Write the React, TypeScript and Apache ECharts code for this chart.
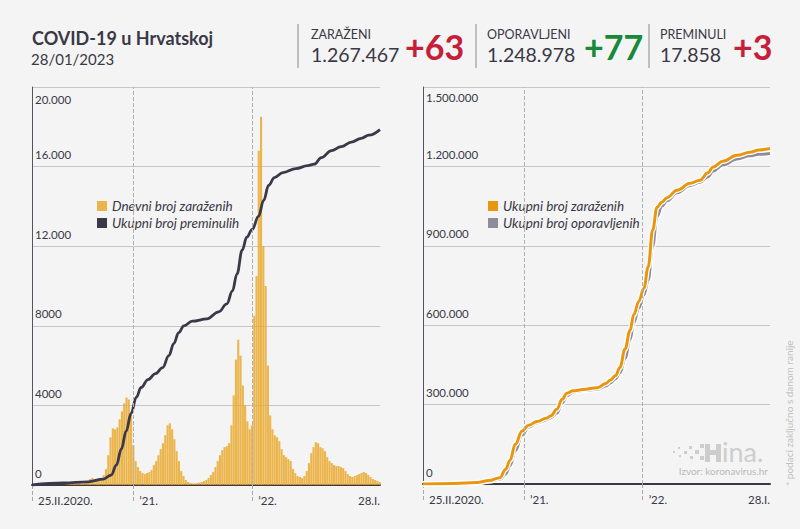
import React, { useEffect, useRef } from "react";
import * as echarts from "echarts";

// ---------- DATA ----------
const START = "2020-02-25";
const END = "2023-01-28";
const YEAR_MARKS = ["2021-01-01", "2022-01-01"];
const X_LABELS: Record<string, string> = {
  "2020-02-25": "25.II.2020.",
  "2021-01-01": "\u201921.",
  "2022-01-01": "\u201922.",
  "2023-01-28": "28.I.",
};

// daily new cases, one value per week from 25.II.2020 (visible peak of each week)
const weeklyCases = [
  0, 5, 30, 80, 100,
  60, 50, 40, 20,
  10, 5, 5, 3, 5,
  10, 30, 90, 100,
  120, 130, 100, 80, 60,
  100, 200, 300, 350,
  250, 250, 300, 350,
  500, 800, 1500, 2400, 2850, 2800, 2900, 3300, 3700, 4100,
  4400, 4300, 3600, 2000, 1200, 900, 700, 600, 550, 600,
  650, 750, 1000, 1200, 1500, 1800, 2100, 2500, 3000, 3100,
  2800, 2300, 1700, 1200, 700, 450, 250, 150, 100, 80,
  80, 100, 120, 150, 200, 250, 350, 500, 650, 900,
  1200, 1500, 1750, 1900, 1950, 2100, 3000, 4500, 6300, 7300,
  6500, 5000, 4000, 3200, 2800, 3000, 8500, 10500, 16800, 18500,
  12000, 10000, 6000, 3500, 2800, 2500, 2400, 2200, 1800, 1500,
  1400, 1300, 1200, 800, 600, 450, 400, 350, 450, 700,
  1100, 1600, 1900, 2150, 2100, 1900, 1850, 1700, 1400, 1200,
  1100, 1000, 950, 950, 900, 850, 700, 550, 450, 400,
  450, 500, 550, 600, 650, 600, 500, 400, 300, 250, 200, 150,
];

const deathDates = [
  "2020-02-25", "2020-06-01", "2020-08-15", "2020-10-01", "2020-10-25", "2020-11-10",
  "2020-11-25", "2020-12-10", "2020-12-25", "2021-01-10", "2021-01-25", "2021-02-15",
  "2021-03-10", "2021-04-01", "2021-04-20", "2021-05-05", "2021-05-20", "2021-06-05",
  "2021-07-01", "2021-08-15", "2021-09-20", "2021-10-15", "2021-11-01", "2021-11-15",
  "2021-12-01", "2021-12-15", "2022-01-01", "2022-01-20", "2022-02-05", "2022-02-20",
  "2022-03-10", "2022-04-05", "2022-05-15", "2022-06-20", "2022-07-10", "2022-08-01",
  "2022-09-01", "2022-10-01", "2022-11-01", "2022-12-01", "2022-12-25", "2023-01-28",
];
const deathValues = [
  0, 100, 160, 300, 500, 1000,
  1800, 2700, 3600, 4400, 4900, 5300,
  5600, 5900, 6500, 7100, 7650, 8000,
  8230, 8350, 8700, 9100, 9750, 10600,
  11800, 12450, 12850, 13500, 14300, 15050,
  15450, 15700, 15900, 16050, 16120, 16450,
  16800, 17000, 17230, 17420, 17580, 17858,
];

const totalDates = [
  "2020-02-25", "2020-06-01", "2020-08-09", "2020-09-15", "2020-10-19", "2020-11-05",
  "2020-11-19", "2020-12-05", "2020-12-26", "2021-01-15", "2021-02-10", "2021-03-10",
  "2021-03-25", "2021-04-12", "2021-04-28", "2021-05-13", "2021-06-01", "2021-07-01",
  "2021-08-15", "2021-09-10", "2021-09-23", "2021-10-10", "2021-10-23", "2021-11-08",
  "2021-11-23", "2021-12-05", "2021-12-20", "2022-01-05", "2022-01-18", "2022-02-01",
  "2022-02-14", "2022-03-01", "2022-03-17", "2022-04-17", "2022-05-27", "2022-06-27",
  "2022-07-20", "2022-08-06", "2022-09-05", "2022-10-18", "2022-11-27", "2022-12-25",
  "2023-01-28",
];
const totalCases = [
  0, 2300, 6000, 13000, 24000, 55000,
  90000, 150000, 200000, 222000, 236000, 248000,
  258000, 282000, 320000, 343000, 352000, 357000,
  364000, 380000, 392000, 410000, 440000, 510000,
  580000, 640000, 690000, 740000, 820000, 960000,
  1045000, 1065000, 1082000, 1110000, 1136000, 1148000,
  1175000, 1198000, 1219000, 1242000, 1253000, 1262000,
  1267467,
];
const totalRecovered = [
  0, 2100, 5000, 11000, 18000, 38000,
  70000, 125000, 185000, 215000, 231000, 242000,
  250000, 268000, 305000, 333000, 348000, 353000,
  358000, 370000, 382000, 398000, 420000, 475000,
  545000, 610000, 665000, 715000, 770000, 900000,
  1010000, 1050000, 1070000, 1100000, 1128000, 1140000,
  1160000, 1183000, 1205000, 1228000, 1240000, 1246000,
  1248978,
];

const stats = [
  { label: "ZARAŽENI", total: "1.267.467", delta: "+63", color: "#c4203a" },
  { label: "OPORAVLJENI", total: "1.248.978", delta: "+77", color: "#17893b" },
  { label: "PREMINULI", total: "17.858", delta: "+3", color: "#c4203a" },
];

// ---------- HELPERS ----------
const DAY = 86400000;
const t = (s: string) => {
  const [y, m, d] = s.split("-").map(Number);
  return Date.UTC(y, m - 1, d);
};
const dots = (v: number) => String(v).replace(/\B(?=(\d{3})+(?!\d))/g, ".");
const leftFmt = (v: number) => (v >= 10000 ? dots(v) : String(v));

const FONT = "Lato, 'Noto Sans', sans-serif";
const DARK = "#3a3846";
const BG = "#f4f4f4";

export default function App() {
  const ref = useRef<HTMLDivElement>(null);

  useEffect(() => {
    if (!ref.current) return;
    const chart = echarts.init(ref.current, null, { renderer: "svg" });

    const t0 = t(START);
    const tEnd = t(END);
    const labelTimes = Object.keys(X_LABELS).map(t);
    const labelMap: Record<number, string> = {};
    Object.keys(X_LABELS).forEach((k) => (labelMap[t(k)] = X_LABELS[k]));

    const barData = weeklyCases.map((v, i) => [t0 + (i * 7 + 3) * DAY, v]);
    const deathData = deathDates.map((d, i) => [t(d), deathValues[i]]);
    const casesData = totalDates.map((d, i) => [t(d), totalCases[i]]);
    const recData = totalDates.map((d, i) => [t(d), totalRecovered[i]]);

    const xAxisBase = (gridIndex: number) => ({
      type: "value",
      gridIndex,
      min: t0,
      max: tEnd,
      axisLine: { show: true, lineStyle: { color: DARK, width: 2 } },
      axisTick: {
        show: true,
        customValues: [t0, ...YEAR_MARKS.map(t)],
        length: 17,
        lineStyle: { color: "#a8a8a8", type: "dashed", width: 1 },
      },
      axisLabel: {
        customValues: labelTimes,
        formatter: (v: number) => {
          let best = "";
          let bd = Infinity;
          for (const k of Object.keys(labelMap)) {
            const d = Math.abs(Number(k) - v);
            if (d < bd) { bd = d; best = labelMap[Number(k)]; }
          }
          return best;
        },
        align: "left",
        alignMaxLabel: "right",
        padding: [0, 0, 0, 6],
        margin: 9,
        fontSize: 11.5,
        color: DARK,
        fontFamily: FONT,
      },
      splitLine: { show: false },
    });

    const yAxisBase = (gridIndex: number, max: number, interval: number, fmt: (v: number) => string) => ({
      type: "value",
      gridIndex,
      min: 0,
      max,
      interval,
      axisLine: { show: true, lineStyle: { color: "#55535f", width: 1 } },
      axisTick: { show: false },
      splitLine: { show: true, lineStyle: { color: "#c6c6c6", width: 1 } },
      axisLabel: {
        inside: true,
        showMaxLabel: false,
        formatter: fmt,
        verticalAlign: "bottom",
        padding: [0, 0, 6, 0],
        margin: 3,
        fontSize: 11.5,
        color: DARK,
        fontFamily: FONT,
      },
    });

    const yearLines = {
      silent: true,
      symbol: "none",
      label: { show: false },
      lineStyle: { type: "dashed", color: "#b0b0b0", width: 1 },
      data: YEAR_MARKS.map((d) => ({ xAxis: t(d) })),
    };

    const statGraphics: any[] = [];
    const sepX = [298, 476, 649];
    const colX = [311, 487, 660];
    const deltaX = [405, 584, 733];
    stats.forEach((s, i) => {
      statGraphics.push({
        type: "line",
        shape: { x1: sepX[i], y1: 24, x2: sepX[i], y2: 68 },
        style: { stroke: "#8a8a8a", lineWidth: 1 },
      });
      statGraphics.push({
        type: "text",
        x: colX[i],
        y: 34,
        style: {
          text: s.label, fontSize: 12.5, lineHeight: 12, fill: DARK, fontFamily: FONT, verticalAlign: "middle",
        },
      });
      statGraphics.push({
        type: "text",
        x: colX[i],
        y: 54,
        style: {
          text: s.total, fontSize: 19.5, lineHeight: 16, fill: DARK, fontFamily: FONT, verticalAlign: "middle",
        },
      });
      statGraphics.push({
        type: "text",
        x: deltaX[i],
        y: 46,
        style: {
          text: s.delta,
          fontSize: 34,
          lineHeight: 30,
          fontWeight: "bold",
          fill: s.color,
          fontFamily: FONT,
          verticalAlign: "middle",
        },
      });
    });

    const logoRects: any[] = [
      [673, 451, 2, 2], [678, 447, 2, 2], [679, 455, 2, 2], [684, 451, 3, 3],
      [689, 446, 3, 3], [690, 456, 3, 3], [695, 450, 4, 4], [700, 444, 4, 4],
      [700, 456, 4, 4], [705, 444, 5, 18], [710, 450, 6, 5], [716, 444, 5, 18],
    ].map(([x, y, w, h]) => ({
      type: "rect",
      shape: { x, y, width: w, height: h },
      style: { fill: "#cdcdcd" },
    }));

    chart.setOption({
      animation: false,
      backgroundColor: BG,
      textStyle: { fontFamily: FONT },
      grid: [
        { left: 32, top: 87, width: 348, height: 398 },
        { left: 423, top: 87, width: 347, height: 397 },
      ],
      xAxis: [xAxisBase(0), xAxisBase(1)],
      yAxis: [
        yAxisBase(0, 20000, 4000, leftFmt),
        yAxisBase(1, 1500000, 300000, dots),
      ],
      legend: [
        {
          left: 92,
          top: 194,
          orient: "vertical",
          itemWidth: 10,
          itemHeight: 10,
          itemGap: 3,
          icon: "rect",
          data: ["Dnevni broj zaraženih", "Ukupni broj preminulih"],
          textStyle: { fontSize: 13.5, fontStyle: "italic", color: DARK, fontFamily: FONT, lineHeight: 14 },
        },
        {
          left: 483,
          top: 194,
          orient: "vertical",
          itemWidth: 10,
          itemHeight: 10,
          itemGap: 3,
          icon: "rect",
          data: ["Ukupni broj zaraženih", "Ukupni broj oporavljenih"],
          textStyle: { fontSize: 13.5, fontStyle: "italic", color: DARK, fontFamily: FONT, lineHeight: 14 },
        },
      ],
      series: [
        {
          name: "Dnevni broj zaraženih",
          type: "bar",
          xAxisIndex: 0,
          yAxisIndex: 0,
          data: barData,
          barWidth: 2.1,
          itemStyle: { color: "#eaa92e", opacity: 0.85 },
          markLine: yearLines,
        },
        {
          name: "Ukupni broj preminulih",
          type: "line",
          xAxisIndex: 0,
          yAxisIndex: 0,
          data: deathData,
          smooth: 0.4,
          smoothMonotone: "x",
          showSymbol: false,
          lineStyle: { color: "#3b3849", width: 2.8 },
          itemStyle: { color: "#3b3849" },
        },
        {
          name: "rec-outline",
          type: "line",
          xAxisIndex: 1,
          yAxisIndex: 1,
          data: recData,
          smooth: 0.4,
          smoothMonotone: "x",
          showSymbol: false,
          lineStyle: { color: "#ffffff", width: 5.5 },
          markLine: yearLines,
          silent: true,
        },
        {
          name: "Ukupni broj oporavljenih",
          type: "line",
          xAxisIndex: 1,
          yAxisIndex: 1,
          data: recData,
          smooth: 0.4,
          smoothMonotone: "x",
          showSymbol: false,
          lineStyle: { color: "#8f8c99", width: 3 },
          itemStyle: { color: "#8f8c99" },
        },
        {
          name: "cases-outline",
          type: "line",
          xAxisIndex: 1,
          yAxisIndex: 1,
          data: casesData,
          smooth: 0.4,
          smoothMonotone: "x",
          showSymbol: false,
          lineStyle: { color: "#ffffff", width: 5.5 },
          silent: true,
        },
        {
          name: "Ukupni broj zaraženih",
          type: "line",
          xAxisIndex: 1,
          yAxisIndex: 1,
          data: casesData,
          smooth: 0.4,
          smoothMonotone: "x",
          showSymbol: false,
          lineStyle: { color: "#e8960f", width: 3 },
          itemStyle: { color: "#e8960f" },
        },
      ],
      graphic: [
        {
          type: "text",
          x: 32,
          y: 38,
          style: {
            text: "COVID-19 u Hrvatskoj",
            fontSize: 18,
            lineHeight: 18,
            fontWeight: "bold",
            fill: DARK,
            fontFamily: FONT,
            verticalAlign: "middle",
          },
        },
        {
          type: "text",
          x: 31,
          y: 59,
          style: {
            text: "28/01/2023", fontSize: 15, lineHeight: 15, fill: DARK, fontFamily: FONT, verticalAlign: "middle",
          },
        },
        ...statGraphics,
        {
          type: "text",
          x: 35,
          y: 99,
          style: { text: leftFmt(20000), fontSize: 11.5, fill: DARK, fontFamily: FONT, verticalAlign: "middle" },
        },
        {
          type: "text",
          x: 426,
          y: 97,
          style: { text: dots(1500000), fontSize: 11.5, fill: DARK, fontFamily: FONT, verticalAlign: "middle" },
        },
        ...logoRects,
        {
          type: "text",
          x: 722,
          y: 451,
          style: {
            text: "ina.", fontSize: 27, lineHeight: 20, fill: "#cdcdcd", fontFamily: FONT, verticalAlign: "middle",
          },
        },
        {
          type: "text",
          x: 768,
          y: 471,
          style: {
            text: "Izvor: koronavirus.hr",
            fontSize: 10,
            lineHeight: 10,
            fill: "#b9b9b9",
            fontFamily: FONT,
            align: "right",
            verticalAlign: "middle",
          },
        },
        {
          type: "text",
          x: 789,
          y: 486,
          rotation: Math.PI / 2,
          style: {
            text: "* podaci zaključno s danom ranije",
            fontSize: 10,
            fill: "#c0c0c0",
            fontFamily: FONT,
            align: "left",
            verticalAlign: "middle",
          },
        },
      ],
    });

    return () => chart.dispose();
  }, []);

  return (
    <div
      ref={ref}
      style={{ position: "fixed", left: 0, top: 0, width: 800, height: 529, background: BG }}
    />
  );
}
